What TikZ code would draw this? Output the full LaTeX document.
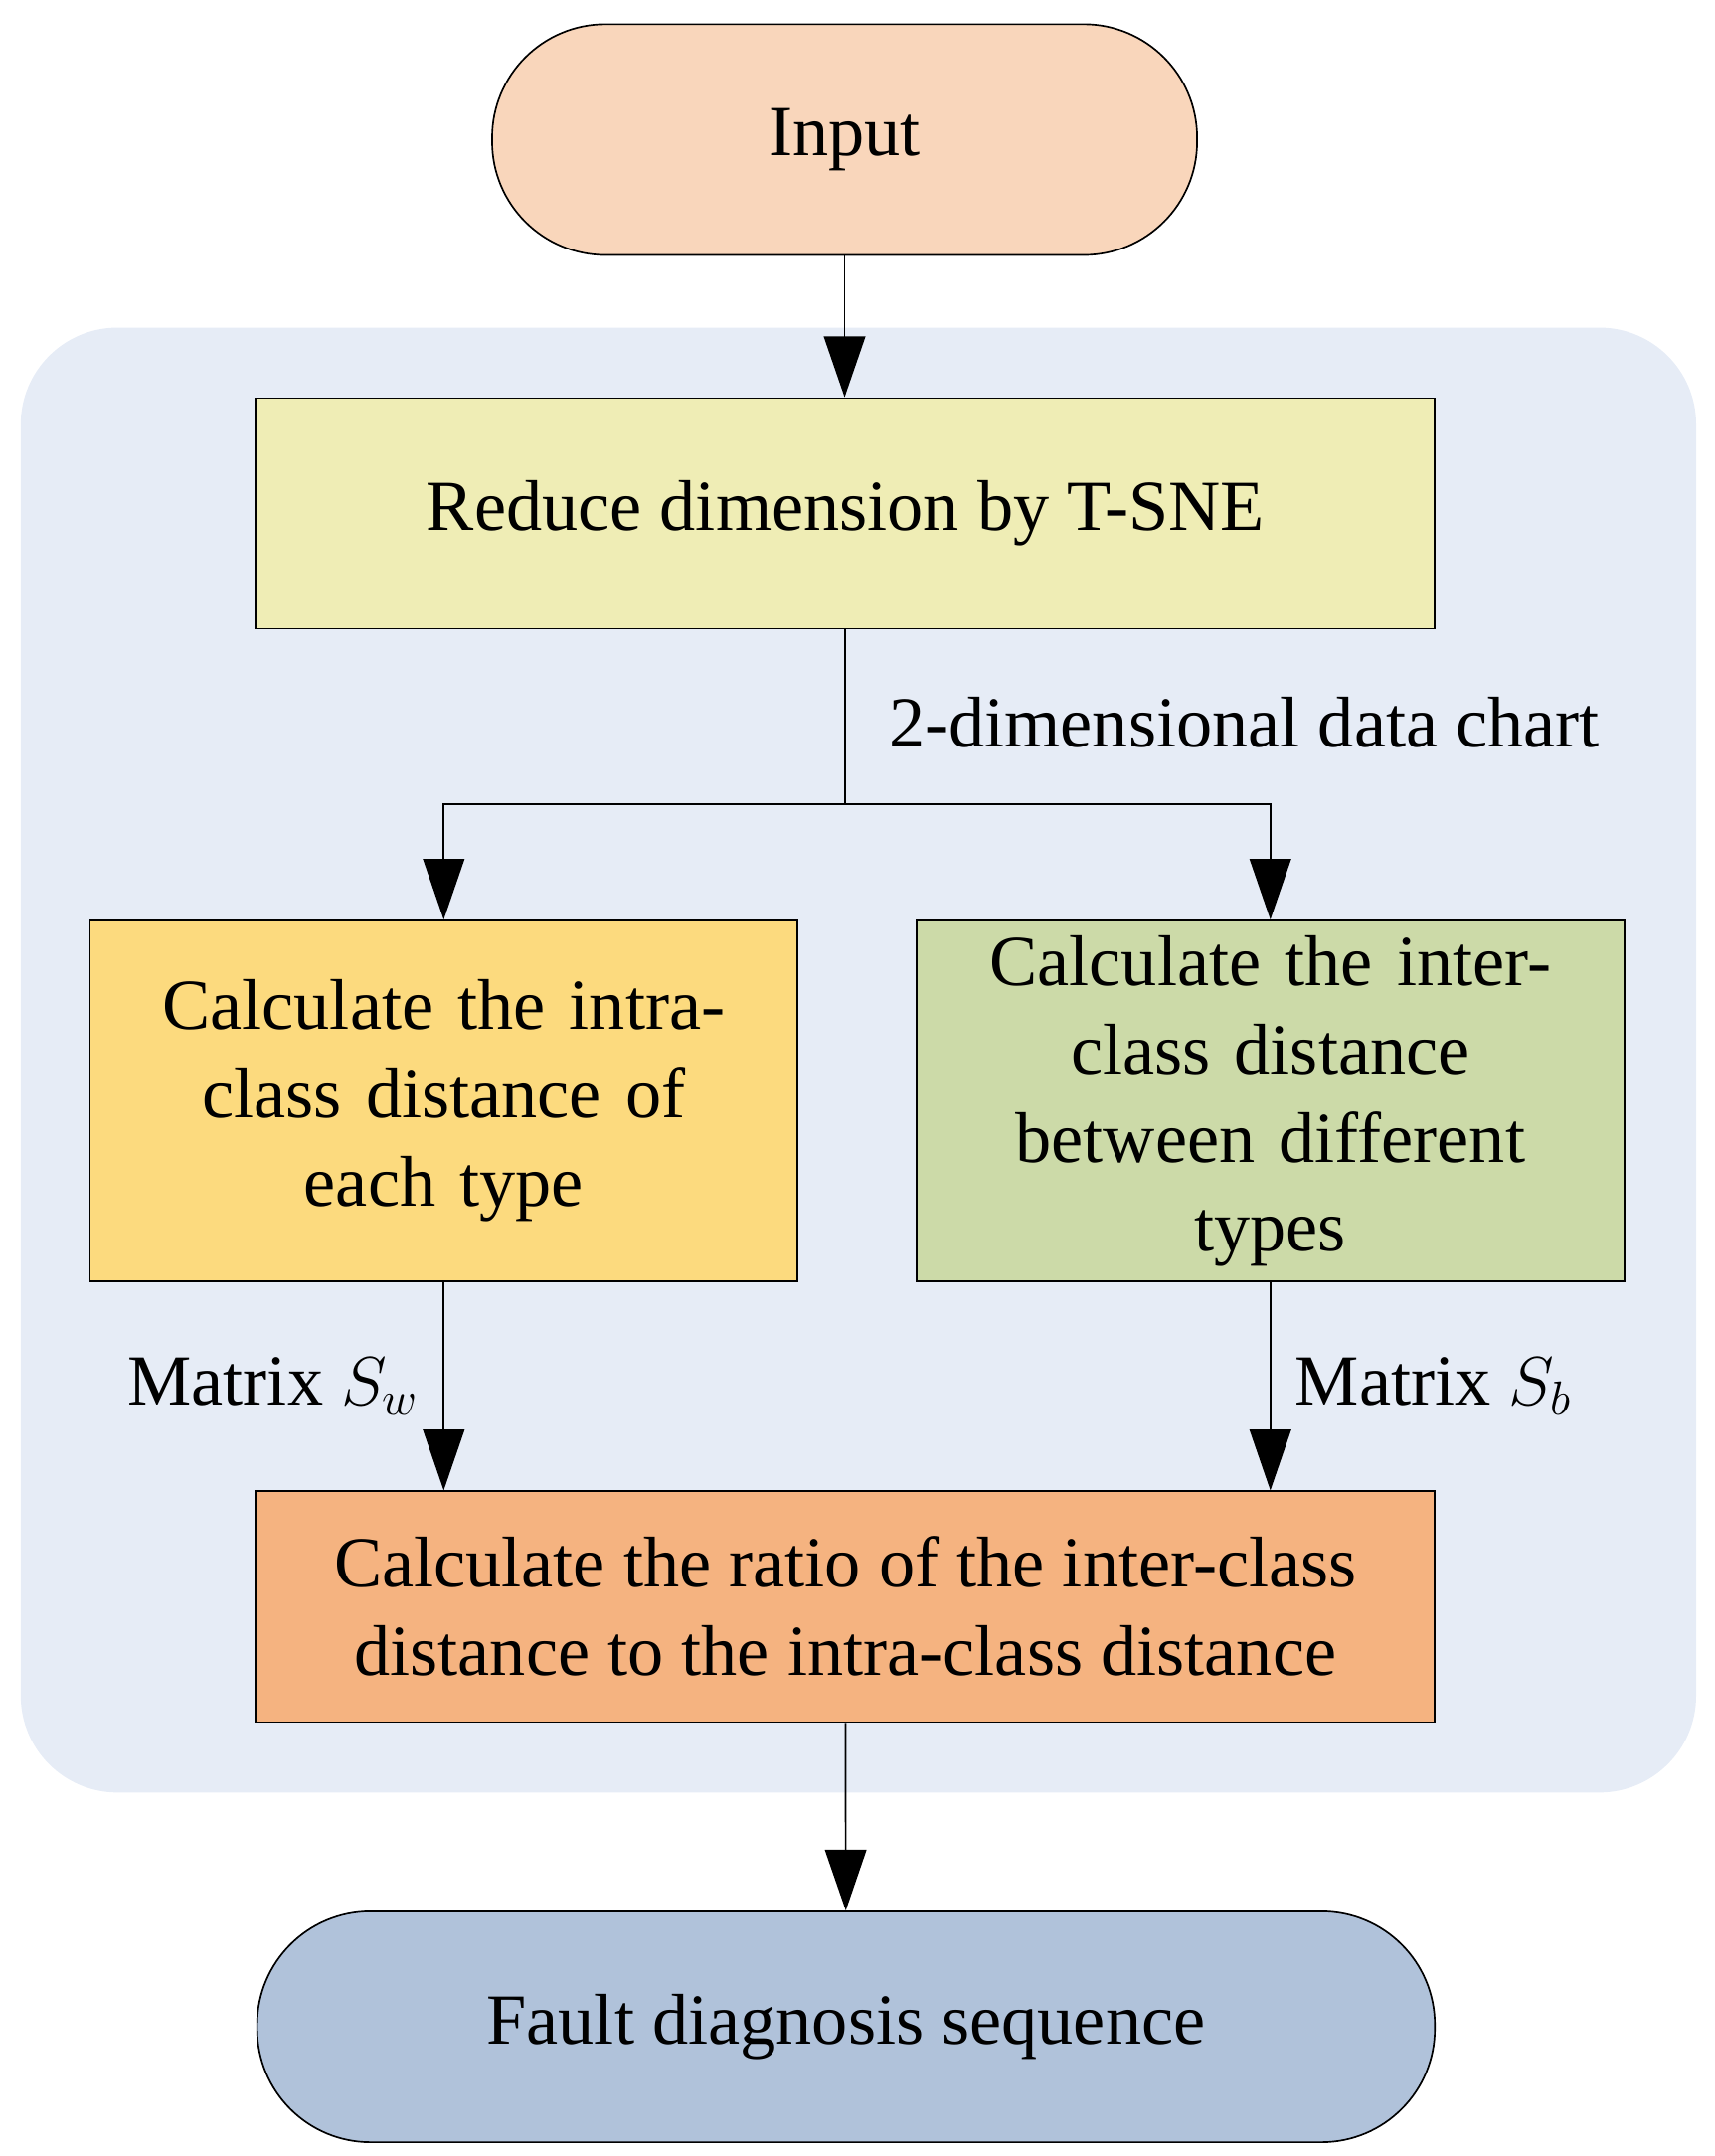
\documentclass[tikz,border=0pt]{standalone}
\usepackage{fontspec}
\setmainfont{Liberation Serif}
\usetikzlibrary{arrows.meta}
\definecolor{bgc}{HTML}{E6ECF6}
\definecolor{inc}{HTML}{F9D6BB}
\definecolor{redc}{HTML}{EFEDB5}
\definecolor{lc}{HTML}{FCDA7E}
\definecolor{rc}{HTML}{CCDAA8}
\definecolor{ratc}{HTML}{F5B380}
\definecolor{fc}{HTML}{B0C2DA}
\begin{document}
\begin{tikzpicture}[x=0.5pt,y=-0.5pt,
  every node/.style={font=\fontsize{26}{32}\selectfont, align=center},
  box/.style={draw, line width=0.6pt, inner sep=0pt},
  arr/.style={line width=0.6pt, -{Triangle[length=22pt,width=15pt]}}]
\useasboundingbox (0,0) rectangle (1240,1560);
\fill[bgc, rounded corners=35pt] (15,237) rectangle (1227,1297);
\node[box, fill=inc, rounded corners=41pt, minimum width=255pt, minimum height=83.5pt] (in) at (611,101) {Input};
\node[box, fill=redc, minimum width=426.5pt, minimum height=83.5pt] (red) at (611.5,371.5) {Reduce dimension by T-SNE};
\node[box, fill=lc, minimum width=256pt, minimum height=130.5pt, text width=220pt] (l) at (321,796.5) {Calculate the intra-\\class distance of\\each type};
\node[box, fill=rc, minimum width=256pt, minimum height=130.5pt, text width=220pt] (r) at (919,796.5) {Calculate the inter-\\class distance\\between different\\types};
\node[box, fill=ratc, minimum width=426.5pt, minimum height=83.5pt] (rat) at (611.5,1162.5) {Calculate the ratio of the inter-class\\distance to the intra-class distance};
\node[box, fill=fc, rounded corners=41pt, minimum width=426pt, minimum height=83.5pt] (f) at (612,1466.5) {Fault diagnosis sequence};
\coordinate (sp) at (611.5,582);
\draw[arr] (in) -- (in|-red.north);
\draw[line width=0.6pt] (red) -- (sp);
\draw[arr] (sp) -| (l.north);
\draw[arr] (sp) -| (r.north);
\draw[arr] (l) -- (l.south|-rat.north);
\draw[arr] (r) -- (r.south|-rat.north);
\draw[arr] (rat) -- (f);
\node[anchor=west] (t1) at (636,523) {2-dimensional data chart};
\node[anchor=east] (t2) at (310,1003) {Matrix $S_w$};
\node[anchor=west] (t3) at (930,1003) {Matrix $S_b$};
\end{tikzpicture}
\end{document}
